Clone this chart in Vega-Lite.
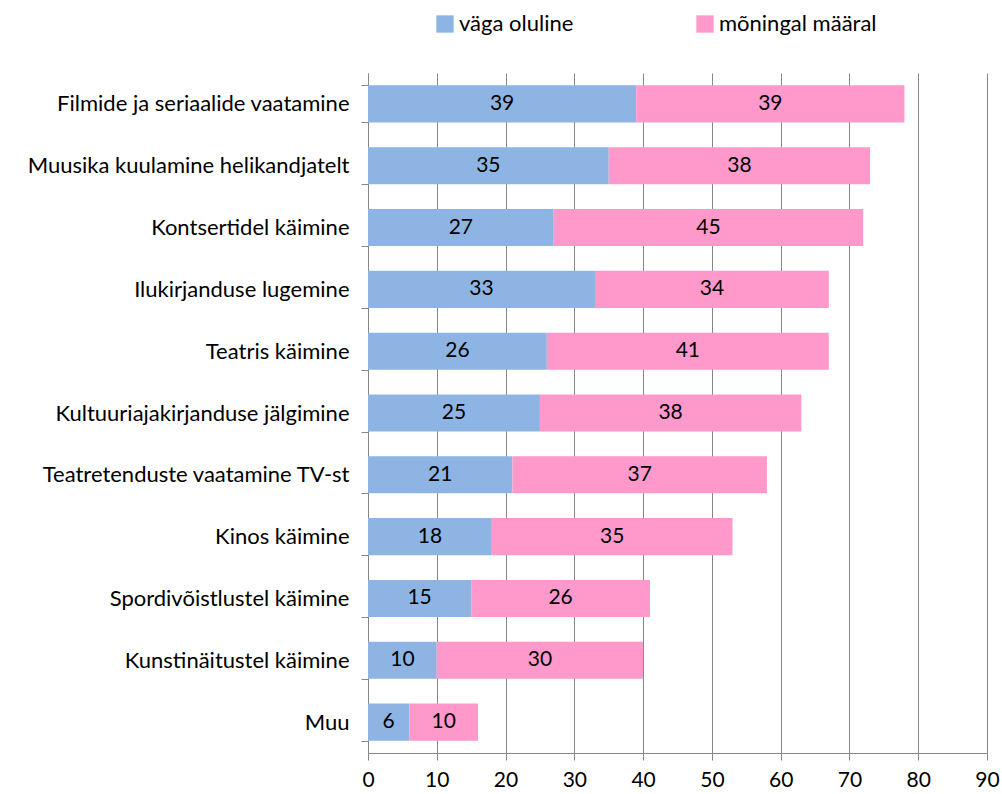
{
  "$schema": "https://vega.github.io/schema/vega-lite/v6.json",
  "autosize": {"type": "none"},
  "padding": {"left": 368, "top": 73, "right": 15, "bottom": 41},
  "width": 619,
  "height": 680,
  "background": "white",
  "config": {
    "font": "Lato",
    "view": {"stroke": null}
  },
  "data": {
    "values": [
      {"kategooria": "Filmide ja seriaalide vaatamine", "tase": "väga oluline", "o": 1, "v": 39},
      {"kategooria": "Filmide ja seriaalide vaatamine", "tase": "mõningal määral", "o": 2, "v": 39},
      {"kategooria": "Muusika kuulamine helikandjatelt\u00a0", "tase": "väga oluline", "o": 1, "v": 35},
      {"kategooria": "Muusika kuulamine helikandjatelt\u00a0", "tase": "mõningal määral", "o": 2, "v": 38},
      {"kategooria": "Kontsertidel käimine", "tase": "väga oluline", "o": 1, "v": 27},
      {"kategooria": "Kontsertidel käimine", "tase": "mõningal määral", "o": 2, "v": 45},
      {"kategooria": "Ilukirjanduse lugemine", "tase": "väga oluline", "o": 1, "v": 33},
      {"kategooria": "Ilukirjanduse lugemine", "tase": "mõningal määral", "o": 2, "v": 34},
      {"kategooria": "Teatris käimine", "tase": "väga oluline", "o": 1, "v": 26},
      {"kategooria": "Teatris käimine", "tase": "mõningal määral", "o": 2, "v": 41},
      {"kategooria": "Kultuuriajakirjanduse jälgimine", "tase": "väga oluline", "o": 1, "v": 25},
      {"kategooria": "Kultuuriajakirjanduse jälgimine", "tase": "mõningal määral", "o": 2, "v": 38},
      {"kategooria": "Teatretenduste vaatamine TV-st", "tase": "väga oluline", "o": 1, "v": 21},
      {"kategooria": "Teatretenduste vaatamine TV-st", "tase": "mõningal määral", "o": 2, "v": 37},
      {"kategooria": "Kinos käimine", "tase": "väga oluline", "o": 1, "v": 18},
      {"kategooria": "Kinos käimine", "tase": "mõningal määral", "o": 2, "v": 35},
      {"kategooria": "Spordivõistlustel käimine", "tase": "väga oluline", "o": 1, "v": 15},
      {"kategooria": "Spordivõistlustel käimine", "tase": "mõningal määral", "o": 2, "v": 26},
      {"kategooria": "Kunstinäitustel käimine", "tase": "väga oluline", "o": 1, "v": 10},
      {"kategooria": "Kunstinäitustel käimine", "tase": "mõningal määral", "o": 2, "v": 30},
      {"kategooria": "Muu\u00a0", "tase": "väga oluline", "o": 1, "v": 6},
      {"kategooria": "Muu\u00a0", "tase": "mõningal määral", "o": 2, "v": 10}
    ]
  },
  "transform": [
    {"stack": "v", "groupby": ["kategooria"], "sort": [{"field": "o", "order": "ascending"}], "as": ["x0", "x1"]}
  ],
  "encoding": {
    "y": {
      "field": "kategooria",
      "type": "nominal",
      "sort": null,
      "title": null,
      "scale": {"paddingInner": 0.4, "paddingOuter": 0.2},
      "axis": {
        "labelFontSize": 22,
        "labelColor": "#000000",
        "labelPadding": 12,
        "labelLimit": 400,
        "tickBand": "extent",
        "tickSize": 7,
        "tickColor": "#868686",
        "domainColor": "#868686",
        "grid": false
      }
    }
  },
  "layer": [
    {
      "mark": {"type": "bar"},
      "encoding": {
        "x": {
          "field": "x0",
          "type": "quantitative",
          "title": null,
          "scale": {"domain": [0, 90], "nice": false},
          "axis": {
            "values": [0, 10, 20, 30, 40, 50, 60, 70, 80, 90],
            "labelFontSize": 21,
            "labelColor": "#000000",
            "labelPadding": 9,
            "tickSize": 7,
            "tickColor": "#868686",
            "domainColor": "#868686",
            "grid": true,
            "gridColor": "#868686",
            "gridOpacity": 1,
            "labelFlush": false
          }
        },
        "x2": {"field": "x1"},
        "color": {
          "field": "tase",
          "type": "nominal",
          "scale": {"domain": ["väga oluline", "mõningal määral"], "range": ["#8EB4E3", "#FF99CC"]},
          "legend": {
            "title": null,
            "orient": "none",
            "legendX": 66,
            "legendY": -60,
            "direction": "horizontal",
            "symbolType": "square",
            "symbolSize": 300,
            "symbolStrokeWidth": 0,
            "symbolOpacity": 1,
            "labelFontSize": 22,
            "labelColor": "#000000",
            "labelOffset": 3,
            "columnPadding": 120,
            "labelLimit": 300
          }
        }
      }
    },
    {
      "transform": [
        {"fold": ["x0", "x1"], "as": ["k", "pos"]},
        {"aggregate": [{"op": "mean", "field": "pos", "as": "mid"}], "groupby": ["kategooria", "tase", "v"]}
      ],
      "mark": {"type": "text", "fontSize": 21, "color": "#000000", "baseline": "middle", "align": "center"},
      "encoding": {
        "x": {"field": "mid", "type": "quantitative"},
        "text": {"field": "v", "type": "quantitative"}
      }
    }
  ]
}
